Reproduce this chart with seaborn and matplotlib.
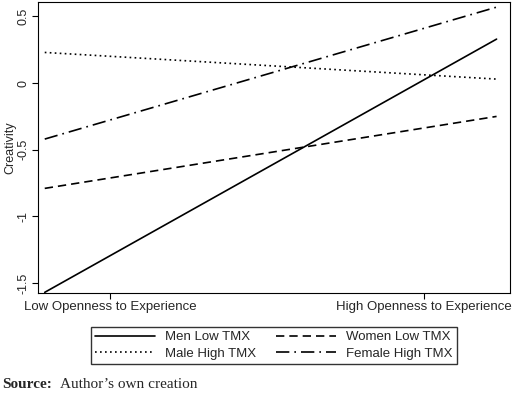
import matplotlib
matplotlib.use("Agg")
import matplotlib.pyplot as plt
import seaborn as sns
import pandas as pd

sns.set_style("white")
plt.rcParams['font.family'] = ['Liberation Sans', 'DejaVu Sans']

x = [-1, 1]
men_low = [-1.57, 0.33]
women_low = [-0.79, -0.25]
male_high = [0.23, 0.03]
female_high = [-0.42, 0.57]
series = ["Men Low TMX", "Women Low TMX", "Male High TMX", "Female High TMX"]
values = [men_low, women_low, male_high, female_high]
styles = ["-", (0, (5, 3)), (0, (1, 2)), (0, (8, 3, 1, 3))]

fig = plt.figure(figsize=(5.2, 4), dpi=100)
ax = fig.add_axes([0.073, 0.2675, 0.908, 0.728])
for name, v, ls in zip(series, values, styles):
    df = pd.DataFrame({"x": x, "y": v})
    sns.lineplot(data=df, x="x", y="y", ax=ax, color="black", lw=1.2,
                 linestyle=ls, label=name)

ax.set_xlim(-1.03, 1.06)
ax.set_ylim(-1.575, 0.61)
ax.set_xticks([-0.71, 0.68])
ax.set_xticklabels(["Low Openness to Experience", "High Openness to Experience"], fontsize=9.5)
ax.set_yticks([0.5, 0, -0.5, -1, -1.5])
ax.set_yticklabels(["0.5", "0", "-0.5", "-1", "-1.5"], rotation=90, va="center", fontsize=9)
ax.tick_params(axis="both", direction="out", length=4, pad=2, color="black", left=True, bottom=True)
ax.set_xlabel("")
ax.set_ylabel("Creativity", fontsize=9, labelpad=1)
for s in ax.spines.values():
    s.set_color("black")
    s.set_linewidth(0.8)

h, l = ax.get_legend_handles_labels()
order = [0, 2, 1, 3]
ax.legend([h[i] for i in order], [l[i] for i in order],
          loc="upper center", bbox_to_anchor=(0.5, -0.095), ncol=2, frameon=True,
          fancybox=False, edgecolor="black", fontsize=9.5, handlelength=4.5,
          columnspacing=1.5, borderpad=0.3, labelspacing=0.3)

fig.text(0.005, 0.03, "Source:", fontweight="bold", family="Liberation Serif", fontsize=11)
fig.text(0.115, 0.03, "Author\u2019s own creation", family="Liberation Serif", fontsize=11)
fig.savefig("out.png", dpi=100)
